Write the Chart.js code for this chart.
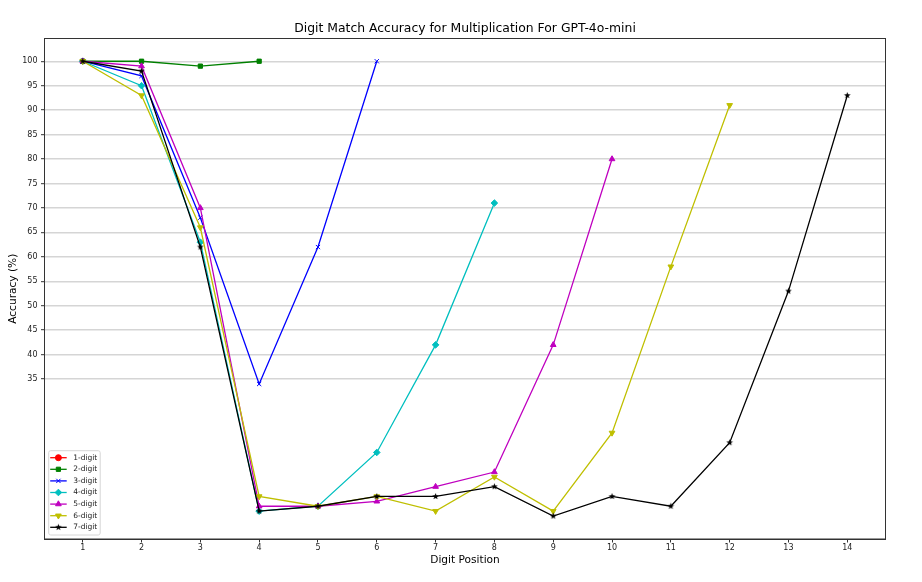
<!DOCTYPE html>
<html lang="en">
<head>
<meta charset="UTF-8">
<title>Digit Match Accuracy</title>
<script src="https://cdn.jsdelivr.net/npm/chart.js@4.4.1/dist/chart.umd.min.js"></script>
<style>
    html, body { margin: 0; padding: 0; background: #fff; }
    #wrap { width: 922px; height: 582px; }
</style>
</head>
<body>
<div id="wrap"><canvas id="chart" width="922" height="582"></canvas></div>
<script>
// digit positions and y ticks
var positions = [1, 2, 3, 4, 5, 6, 7, 8, 9, 10, 11, 12, 13, 14];
var yTicks = [35, 40, 45, 50, 55, 60, 65, 70, 75, 80, 85, 90, 95, 100];

// accuracy per digit position, one list per operand length
var acc1 = [100];
var acc2 = [100, 100, 99, 100];
var acc3 = [100, 97, 68, 34, 62, 100];
var acc4 = [100, 95, 63, 8, 9, 20, 42, 71];
var acc5 = [100, 99, 70, 9, 9, 10, 13, 16, 42, 80];
var acc6 = [100, 93, 66, 11, 9, 11, 8, 15, 8, 24, 58, 91];
var acc7 = [100, 98, 62, 8, 9, 11, 11, 13, 7, 11, 9, 22, 53, 93];

var seriesNames = ['1-digit', '2-digit', '3-digit', '4-digit', '5-digit', '6-digit', '7-digit'];
var seriesValues = [acc1, acc2, acc3, acc4, acc5, acc6, acc7];
var seriesColors = ['#ff0000', '#008000', '#0000ff', '#00bfbf', '#bf00bf', '#bfbf00', '#000000'];

var TITLE = 'Digit Match Accuracy for Multiplication For GPT-4o-mini';
var FONT = 'DejaVu Sans';

// filled star like the matplotlib '*' marker
function makeStar(color, r) {
    var c = document.createElement('canvas');
    c.width = c.height = Math.ceil(r * 2 + 2);
    var g = c.getContext('2d');
    var cx = c.width / 2, cy = c.height / 2;
    g.beginPath();
    for (var i = 0; i < 10; i++) {
        var rr = i % 2 === 0 ? r : r * 0.42;
        var a = -Math.PI / 2 + i * Math.PI / 5;
        g.lineTo(cx + rr * Math.cos(a), cy + rr * Math.sin(a));
    }
    g.closePath();
    g.fillStyle = color;
    g.fill();
    return c;
}

var markers = [
    { style: 'circle', rot: 0, r: 2.6 },
    { style: 'rect', rot: 0, r: 3 },
    { style: 'crossRot', rot: 0, r: 3 },
    { style: 'rectRot', rot: 0, r: 3.3 },
    { style: 'triangle', rot: 0, r: 3.3 },
    { style: 'triangle', rot: 180, r: 3.3 },
    { style: makeStar('#000000', 3.5), rot: 0, r: 3.5 }
];

var datasets = seriesNames.map(function (name, i) {
    return {
        label: name,
        data: seriesValues[i].map(function (v, j) { return { x: positions[j], y: v }; }),
        borderColor: seriesColors[i],
        backgroundColor: seriesColors[i],
        borderWidth: 1.3,
        pointStyle: markers[i].style,
        pointRotation: markers[i].rot,
        pointRadius: markers[i].r,
        pointBorderWidth: 1,
        order: seriesNames.length - i,   // later series on top, as in matplotlib
        tension: 0,
        fill: false
    };
});

// box around the axes and the title centred over it
var frame = {
    id: 'frame',
    afterDatasetsDraw: function (chart) {
        var a = chart.chartArea, ctx = chart.ctx;
        ctx.save();
        ctx.strokeStyle = '#333';
        ctx.lineWidth = 1;
        ctx.strokeRect(a.left, a.top, a.right - a.left, a.bottom - a.top);
        ctx.fillStyle = '#000';
        ctx.font = '12.4px "' + FONT + '"';
        ctx.textAlign = 'center';
        ctx.textBaseline = 'middle';
        ctx.fillText(TITLE, (a.left + a.right) / 2, 29);
        ctx.restore();
    }
};

// legend in the lower left corner of the axes
var insideLegend = {
    id: 'insideLegend',
    afterDraw: function (chart) {
        var ctx = chart.ctx, a = chart.chartArea;
        var rowH = 11.6, boxW = 51.5, boxH = 84.3;
        var x0 = a.left + 4.2, y0 = a.bottom - 4 - boxH;
        ctx.save();
        ctx.beginPath();
        if (ctx.roundRect) ctx.roundRect(x0, y0, boxW, boxH, 2);
        else ctx.rect(x0, y0, boxW, boxH);
        ctx.fillStyle = 'rgba(255,255,255,0.8)';
        ctx.fill();
        ctx.strokeStyle = '#d6d6d6';
        ctx.lineWidth = 1;
        ctx.stroke();
        ctx.font = '7.5px "' + FONT + '"';
        ctx.textBaseline = 'middle';
        chart.data.datasets.forEach(function (ds, i) {
            var cy = y0 + 7 + i * rowH;
            ctx.strokeStyle = ds.borderColor;
            ctx.fillStyle = ds.backgroundColor;
            ctx.lineWidth = 1.3;
            ctx.beginPath();
            ctx.moveTo(x0 + 1.5, cy);
            ctx.lineTo(x0 + 18, cy);
            ctx.stroke();
            ctx.lineWidth = 1;
            if (Chart.helpers && Chart.helpers.drawPoint) {
                Chart.helpers.drawPoint(ctx, {
                    pointStyle: ds.pointStyle,
                    rotation: ds.pointRotation,
                    radius: Math.max(ds.pointRadius, 3),
                    borderWidth: 1
                }, x0 + 9.7, cy);
            }
            ctx.fillStyle = '#222';
            ctx.fillText(ds.label, x0 + 24.5, cy);
        });
        ctx.restore();
    }
};

new Chart(document.getElementById('chart'), {
    type: 'line',
    data: { datasets: datasets },
    plugins: [frame, insideLegend],
    options: {
        responsive: false,
        animation: false,
        layout: { padding: { left: 7.3, right: 36.5, top: 38.5, bottom: 15 } },
        plugins: {
            legend: { display: false },
            tooltip: { enabled: false },
            title: { display: false }
        },
        scales: {
            x: {
                type: 'linear',
                min: 0.35,
                max: 14.65,
                afterBuildTicks: function (s) {
                    s.ticks = positions.map(function (p) { return { value: p }; });
                },
                afterFit: function (s) { s.height = 28; },
                grid: { drawOnChartArea: false, drawTicks: true, tickLength: 3.5, tickColor: '#333', tickWidth: 1 },
                border: { display: true, color: '#333', width: 1 },
                ticks: { padding: 1, color: '#222', maxRotation: 0, autoSkip: false, font: { family: FONT, size: 8 } },
                title: { display: true, text: 'Digit Position', color: '#000', padding: 0, font: { family: FONT, size: 10.6 } }
            },
            y: {
                min: 2.3,
                max: 104.65,
                afterBuildTicks: function (s) {
                    s.ticks = yTicks.map(function (t) { return { value: t }; });
                },
                afterFit: function (s) { s.width = 37.2; },
                grid: { color: '#d5d5d5', lineWidth: 1.4, drawTicks: true, tickLength: 3.5, tickColor: '#333', tickWidth: 1 },
                border: { display: true, color: '#333', width: 1 },
                ticks: { padding: 3.5, color: '#222', autoSkip: false, font: { family: FONT, size: 8 } },
                title: { display: true, text: 'Accuracy (%)', color: '#000', padding: 0, font: { family: FONT, size: 10.6 } }
            }
        }
    }
});
</script>
</body>
</html>
